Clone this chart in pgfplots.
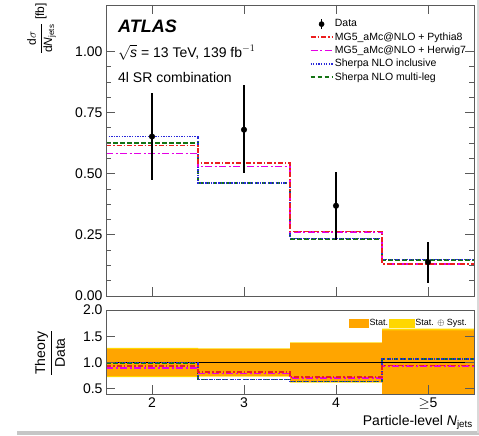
\documentclass[border=0pt]{standalone}
\usepackage{pgfplots}
\pgfplotsset{compat=1.18}
\usepackage{amsmath}
\usepackage{fontspec}
\setmainfont{Liberation Sans}

\definecolor{mgred}{rgb}{0.92,0.12,0.12}
\definecolor{mgmag}{rgb}{0.90,0.0,0.90}
\definecolor{shblue}{rgb}{0.16,0.16,0.85}
\definecolor{shgreen}{rgb}{0.08,0.45,0.08}
\definecolor{bandorange}{RGB}{255,165,0}
\definecolor{bandyellow}{RGB}{255,215,0}
\definecolor{axframe}{RGB}{90,90,90}

\begin{document}
\begin{tikzpicture}
\useasboundingbox (0pt,0pt) rectangle (479pt,-436pt);
\pgfplotsset{
 atlas/.style={
  scale only axis, width=368pt, xmin=1.5, xmax=5.5,
  axis line style={draw=axframe, line width=0.9pt},
  every tick/.style={draw=axframe, line width=0.9pt},
  tick align=inside, major tick length=9pt, minor tick length=5pt,
  xtick={2,3,4,5},
  ticklabel style={font=\fontsize{14}{16}\selectfont},
  /pgf/number format/assume math mode=true,
  axis on top,
  clip=true,
 },
 linel/.style={legend image code/.code={\draw[##1] (0pt,0pt) -- (22pt,0pt);}},
 styPythia/.style={draw=mgred, color=mgred, line width=1.6pt, dash pattern=on 5pt off 2pt on 1.5pt off 2pt},
 styHerwig/.style={draw=mgmag, color=mgmag, line width=1.6pt, dash pattern=on 7pt off 2.5pt on 2pt off 2.5pt},
 styIncl/.style={draw=shblue, color=shblue, line width=1.6pt, dash pattern=on 1.3pt off 1.3pt},
 styMulti/.style={draw=shgreen, color=shgreen, line width=1.6pt, dash pattern=on 4.5pt off 2.5pt},
}
% ---------------- main panel
\begin{axis}[atlas, at={(106pt,-5pt)}, anchor=north west, height=291pt,
 ymin=0, ymax=1.19, ytick={0,0.25,0.5,0.75,1.0}, minor y tick num=3,
 yticklabel style={/pgf/number format/.cd, fixed, fixed zerofill, precision=2},
 xticklabels={},
 legend style={at={(0.545,0.962)}, anchor=north west, draw=none, fill=none,
   font=\fontsize{10.5}{12}\selectfont, row sep=1.2pt,
   nodes={inner sep=1.5pt}},
 legend cell align=left,
]
\addplot[const plot, styMulti, forget plot] coordinates {(1.5,0.626)(2.5,0.462)(3.5,0.234)(4.5,0.148)(5.5,0.148)};
\addplot[const plot, styIncl, forget plot] coordinates {(1.5,0.652)(2.5,0.463)(3.5,0.235)(4.5,0.149)(5.5,0.149)};
\addplot[const plot, styHerwig, forget plot] coordinates {(1.5,0.582)(2.5,0.530)(3.5,0.262)(4.5,0.130)(5.5,0.130)};
\addplot[const plot, styPythia, forget plot] coordinates {(1.5,0.615)(2.5,0.545)(3.5,0.264)(4.5,0.132)(5.5,0.132)};
\addplot[only marks, mark=*, black, mark size=2.8pt, forget plot,
  error bars/.cd, y dir=both, y explicit, error mark=none,
  error bar style={line width=1.3pt, black}]
 coordinates {
  (2,0.652) += (0,0.180) -= (0,0.177)
  (3,0.680) += (0,0.181) -= (0,0.176)
  (4,0.369) += (0,0.139) -= (0,0.139)
  (5,0.139) += (0,0.082) -= (0,0.086)
 };
\addlegendimage{legend image code/.code={\draw[black,line width=1.2pt] (11pt,-5pt) -- (11pt,5pt); \fill[black] (11pt,0pt) circle (2.6pt);}}
\addlegendentry{Data}
\addlegendimage{linel, styPythia}
\addlegendentry{MG5\_aMc@NLO + Pythia8}
\addlegendimage{linel, styHerwig}
\addlegendentry{MG5\_aMc@NLO + Herwig7}
\addlegendimage{linel, styIncl}
\addlegendentry{Sherpa NLO inclusive}
\addlegendimage{linel, styMulti}
\addlegendentry{Sherpa NLO multi-leg}
\end{axis}
% ---------------- ratio panel
\begin{axis}[atlas, at={(106pt,-310pt)}, anchor=north west, height=84pt,
 ymin=0.4, ymax=2.0, ytick={0.5,1,1.5,2},
 yticklabel style={/pgf/number format/.cd, fixed, fixed zerofill, precision=1},
 xticklabels={2,3,4,$\geq$5}, xtick pos=bottom, ytick pos=both,
 legend style={at={(0.652,0.93)}, anchor=north west, draw=none, fill=none,
   font=\fontsize{9}{10}\selectfont, column sep=0pt,
   nodes={inner sep=1pt}},
 legend columns=2,
]
\addplot[fill=bandyellow, draw=none, forget plot] coordinates {(1.5,0.72)(1.5,1.28)(2.5,1.28)(2.5,1.27)(3.5,1.27)(3.5,1.385)(4.5,1.385)(4.5,1.645)(5.5,1.645)(5.5,0.3)(4.5,0.3)(4.5,0.615)(3.5,0.615)(3.5,0.73)(2.5,0.73)(2.5,0.72)} -- cycle;
\addplot[fill=bandorange, draw=none, forget plot] coordinates {(1.5,0.745)(1.5,1.255)(2.5,1.255)(2.5,1.255)(3.5,1.255)(3.5,1.37)(4.5,1.37)(4.5,1.61)(5.5,1.61)(5.5,0.3)(4.5,0.3)(4.5,0.63)(3.5,0.63)(3.5,0.745)(2.5,0.745)(2.5,0.745)} -- cycle;
\addplot[black, line width=0.5pt, forget plot] coordinates {(1.5,1)(5.5,1)};
\addplot[const plot, styMulti, forget plot] coordinates {(1.5,0.99)(2.5,0.68)(3.5,0.635)(4.5,1.065)(5.5,1.065)};
\addplot[const plot, styIncl, forget plot] coordinates {(1.5,1.0)(2.5,0.68)(3.5,0.637)(4.5,1.068)(5.5,1.068)};
\addplot[const plot, styHerwig, forget plot] coordinates {(1.5,0.90)(2.5,0.79)(3.5,0.71)(4.5,0.935)(5.5,0.935)};
\addplot[const plot, styPythia, forget plot] coordinates {(1.5,0.93)(2.5,0.82)(3.5,0.72)(4.5,0.94)(5.5,0.94)};
\addlegendimage{legend image code/.code={\fill[bandorange] (0pt,-4pt) rectangle (19pt,4pt);}}
\addlegendentry{Stat.}
\addlegendimage{legend image code/.code={\fill[bandyellow] (0pt,-4pt) rectangle (25pt,4pt);}}
\addlegendentry{Stat. $\oplus$ Syst.}
\end{axis}
% ---------------- texts
\node[anchor=base west, inner sep=0pt] at (118pt,-33pt) {\fontsize{18}{20}\selectfont\bfseries\itshape ATLAS};
\node[anchor=base west, inner sep=0pt] at (118pt,-57pt) {\fontsize{14}{16}\selectfont $\sqrt{\text{\textit{s}}}$ = 13 TeV, 139 fb$^{-1}$};
\node[anchor=base west, inner sep=0pt] at (118pt,-82pt) {\fontsize{14}{16}\selectfont 4l SR combination};
\node[rotate=90, anchor=north east, inner sep=0pt] at (27pt,-3pt) {\fontsize{12}{14}\selectfont $\dfrac{\text{d}\sigma}{\text{d\textit{N}}_{\text{jets}}}$ [fb]};
\node[rotate=90, inner sep=0pt] at (50pt,-353pt) {\fontsize{14}{16}\selectfont $\dfrac{\text{Theory}}{\text{Data}}$};
\node[anchor=base east, inner sep=0pt] at (473pt,-425pt) {\fontsize{14}{16}\selectfont Particle-level \textit{N}$_{\text{jets}}$};
% screenshot frame shadow
\fill[gray!45] (17pt,-431pt) rectangle (479pt,-435pt);
\fill[gray!30] (476.5pt,0pt) rectangle (479pt,-433pt);
\end{tikzpicture}
\end{document}
